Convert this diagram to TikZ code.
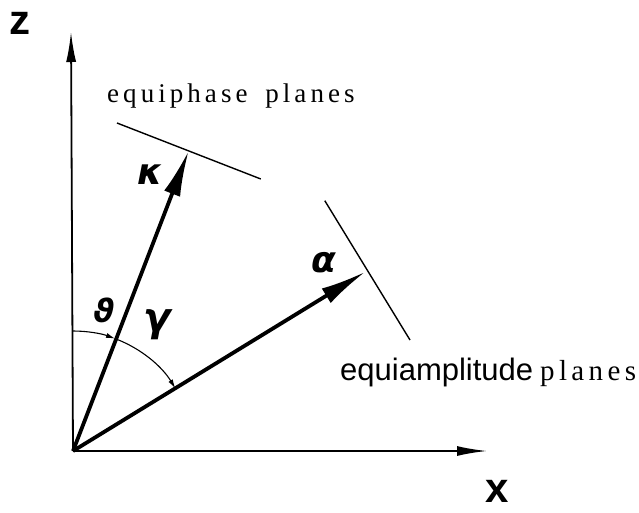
\documentclass[tikz,border=0pt]{standalone}
\usepackage{fontspec}
\setmainfont{Liberation Serif}
\setsansfont{Liberation Sans}
\newfontfamily\greekfont{DejaVu Sans}
\newfontfamily\spacedserif[LetterSpace=15]{Liberation Serif}
\usetikzlibrary{arrows.meta}
\begin{document}
\begin{tikzpicture}[x=1pt,y=1pt,
  axis/.style={line width=1.8pt,-{Latex[length=30pt,width=10pt]}},
  vec/.style={line width=3.8pt,-{Latex[length=46pt,width=17pt]}},
  plane/.style={line width=1.4pt},
  anglearc/.style={line width=1.1pt,-{Latex[length=9pt,width=5pt]}},
  axlabel/.style={font=\sffamily\bfseries\fontsize{42}{42}\selectfont,inner sep=0pt},
  glabel/.style={font=\greekfont\bfseries\itshape\fontsize{36}{36}\selectfont,inner sep=0pt},
  serlabel/.style={font=\spacedserif\fontsize{27}{30}\selectfont,inner sep=0pt},
  sanslabel/.style={font=\sffamily\fontsize{31}{34}\selectfont,inner sep=0pt}]
\useasboundingbox (-73,-61) rectangle (566,451);
\coordinate (O) at (0,0);
\coordinate (Z) at (-2,419);
\coordinate (X) at (414,0);
\coordinate (K) at (115.7,300.3);
\coordinate (A) at (292.5,179.3);
\coordinate (P1) at (44,328);
\coordinate (P2) at (187.8,272);
\coordinate (Q1) at (251.8,250.3);
\coordinate (Q2) at (337,111);
\draw[axis] (O) -- (Z);
\draw[axis] (O) -- (X);
\draw[vec] (O) -- (K);
\draw[vec] (O) -- (A);
\draw[plane] (P1) -- (P2);
\draw[plane] (Q1) -- (Q2);
\draw[anglearc] (90:120) arc[start angle=90,end angle=69.5,radius=120];
\draw[anglearc] (68.9:120) arc[start angle=68.9,end angle=31.5,radius=120];
\node[axlabel] (zl) at (-53,428) {z};
\node[axlabel] (xl) at (424,-40) {x};
\node[serlabel,anchor=base west] (eqp) at (34,348) {equiphase\hspace{7pt} planes};
\node[glabel] (kl) at (77,276) {κ};
\node[glabel] (al) at (251,188.5) {α};
\node[glabel,font=\greekfont\bfseries\itshape\fontsize{32}{32}\selectfont] (tl) at (31,141) {ϑ};
\node[glabel,font=\greekfont\bfseries\itshape\fontsize{40}{40}\selectfont] (gl) at (84,126) {γ};
\node[sanslabel,anchor=base west] (eqa) at (267,71) {equiamplitude};
\node[serlabel,font=\spacedserif\fontsize{29}{32}\selectfont,anchor=base west] (eqb) at (467,71) {planes};
\end{tikzpicture}
\end{document}
